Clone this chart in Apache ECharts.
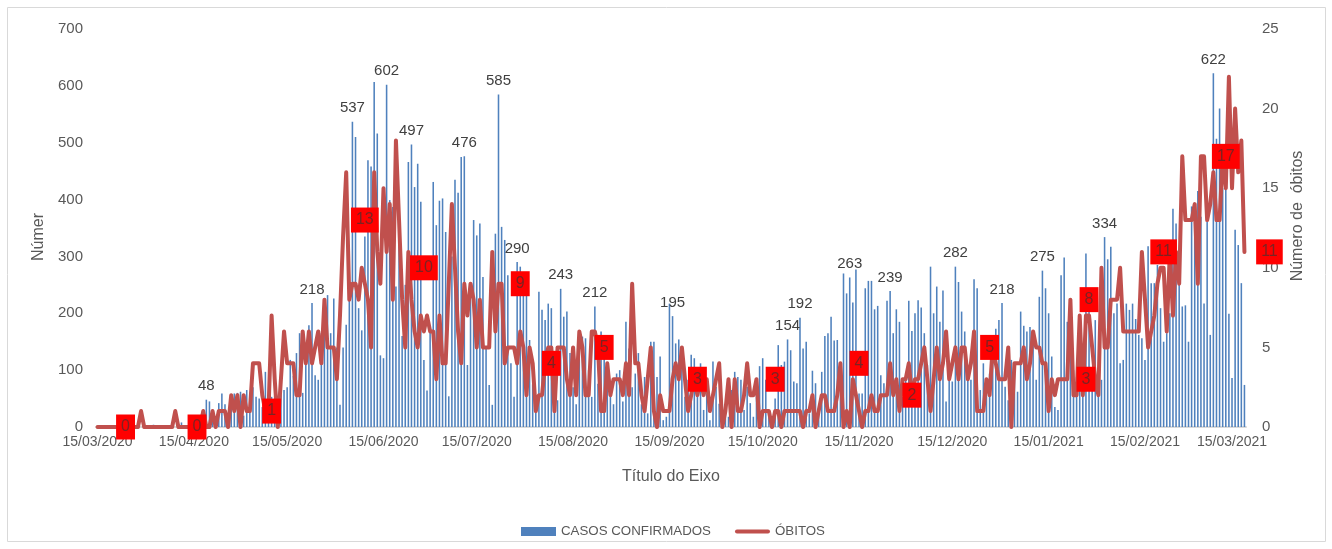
<!DOCTYPE html>
<html>
<head>
<meta charset="utf-8">
<script src="https://cdn.jsdelivr.net/npm/echarts@6/dist/echarts.min.js"></script>
<style>
  html, body { margin: 0; padding: 0; background: #fff; }
  #chart { width: 1332px; height: 549px; }
</style>
</head>
<body>
<div id="chart"></div>
<script>
// daily series, first day 15/03/2020
const START_DAY = Date.UTC(2020, 2, 15);

const casosConfirmados = [
  0, 0, 0, 0, 0, 0, 0, 0, 0, 0,
  0, 0, 0, 0, 0, 0, 0, 0, 4, 0,
  0, 0, 0, 0, 0, 0, 0, 8, 0, 3,
  0, 2, 5, 10, 6, 48, 45, 15, 10, 42,
  59, 40, 18, 58, 59, 60, 62, 20, 65, 30,
  70, 53, 50, 35, 97, 55, 53, 55, 45, 60,
  65, 70, 118, 90, 130, 165, 60, 130, 179, 218,
  91, 83, 165, 226, 232, 165, 226, 140, 39, 140,
  180, 223, 537, 510, 209, 170, 335, 469, 458, 607,
  516, 126, 121, 602, 399, 387, 247, 330, 160, 250,
  466, 497, 422, 463, 396, 118, 64, 170, 431, 355,
  398, 402, 343, 54, 300, 435, 412, 475, 476, 109,
  250, 364, 337, 358, 264, 141, 74, 39, 340, 585,
  352, 329, 267, 112, 53, 290, 282, 264, 240, 153,
  75, 35, 238, 206, 188, 217, 209, 40, 47, 243,
  194, 203, 130, 70, 40, 168, 159, 156, 100, 53,
  212, 76, 168, 153, 112, 76, 40, 94, 100, 45,
  185, 138, 70, 94, 130, 40, 88, 24, 150, 150,
  88, 124, 12, 18, 217, 195, 147, 154, 141, 53,
  83, 127, 121, 65, 112, 30, 59, 12, 115, 71,
  41, 41, 41, 18, 65, 97, 88, 83, 30, 71,
  42, 18, 77, 107, 121, 83, 30, 15, 50, 144,
  109, 115, 154, 135, 80, 77, 192, 138, 150, 24,
  99, 77, 24, 97, 160, 165, 194, 152, 153, 71,
  270, 235, 263, 219, 277, 59, 59, 244, 257, 257,
  207, 213, 91, 77, 222, 239, 165, 207, 185, 53,
  83, 222, 169, 200, 223, 210, 165, 109, 282, 200,
  247, 185, 240, 45, 83, 80, 282, 255, 203, 168,
  83, 83, 260, 244, 65, 112, 77, 94, 148, 173,
  188, 218, 71, 47, 118, 94, 62, 203, 178, 168,
  176, 168, 83, 229, 275, 244, 200, 124, 35, 30,
  267, 298, 185, 140, 100, 88, 80, 120, 305, 230,
  83, 188, 70, 83, 334, 295, 317, 200, 217, 112,
  118, 217, 206, 217, 190, 162, 156, 118, 318, 253,
  253, 285, 209, 150, 165, 200, 384, 358, 298, 212,
  214, 150, 388, 394, 415, 370, 217, 361, 162, 622,
  507, 560, 420, 417, 199, 86, 347, 320, 253, 74
];

const obitos = [
  0, 0, 0, 0, 0, 0, 0, 0, 0, 0,
  0, 0, 0, 0, 1, 0, 0, 0, 0, 0,
  0, 0, 0, 0, 0, 1, 0, 0, 0, 0,
  0, 0, 0, 0, 1, 0, 0, 1, 0, 1,
  1, 1, 0, 2, 1, 2, 0, 2, 1, 1,
  4, 4, 4, 2, 1, 1, 7, 3, 0, 3,
  6, 4, 4, 4, 2, 2, 6, 4, 6, 4,
  5, 6, 4, 8, 5, 5, 5, 3, 7, 12,
  16, 8, 9, 9, 8, 10, 9, 8, 5, 16,
  11, 9, 15, 11, 14, 8, 18, 13, 8, 5,
  11, 8, 6, 5, 7, 6, 7, 6, 6, 3,
  7, 4, 4, 9, 14, 10, 6, 4, 9, 7,
  9, 8, 5, 8, 5, 5, 5, 11, 6, 9,
  9, 4, 5, 5, 5, 4, 6, 5, 2, 5,
  4, 1, 2, 2, 4, 5, 5, 1, 5, 5,
  5, 3, 2, 5, 2, 6, 5, 2, 2, 6,
  6, 5, 1, 1, 4, 2, 3, 3, 3, 2,
  4, 2, 9, 4, 4, 2, 1, 3, 5, 1,
  0, 2, 1, 1, 1, 3, 4, 3, 5, 3,
  1, 2, 3, 2, 3, 2, 3, 1, 2, 3,
  4, 0, 1, 3, 0, 3, 1, 1, 2, 4,
  2, 2, 3, 0, 1, 1, 1, 0, 1, 1,
  0, 1, 1, 1, 1, 1, 1, 0, 1, 1,
  2, 0, 1, 2, 2, 1, 1, 1, 2, 4,
  0, 1, 0, 3, 2, 1, 0, 1, 1, 2,
  1, 1, 2, 2, 2, 4, 2, 3, 1, 3,
  3, 4, 2, 3, 3, 4, 5, 3, 1, 3,
  5, 3, 4, 6, 3, 4, 5, 3, 5, 5,
  3, 4, 6, 1, 1, 1, 3, 2, 5, 4,
  3, 3, 3, 5, 0, 4, 4, 4, 5, 3,
  4, 6, 5, 5, 4, 4, 1, 3, 2, 3,
  3, 3, 3, 8, 2, 2, 7, 2, 7, 7,
  5, 3, 2, 10, 5, 5, 8, 8, 8, 10,
  6, 6, 6, 6, 6, 6, 11, 8, 5, 6,
  7, 9, 10, 10, 6, 11, 7, 11, 9, 17,
  13, 13, 13, 14, 9, 17, 17, 13, 14, 16,
  13, 13, 17, 15, 22, 15, 20, 16, 18, 11
];

// days whose bar carries a value label
const casosLabelDays = [35, 69, 82, 93, 101, 118, 129, 135, 149, 160, 185, 222, 226, 242, 255, 276, 291, 304, 324, 359];

// red boxes on the deaths line (day, value shown)
const obitosLabelDays = [9, 32, 56, 86, 105, 136, 146, 163, 193, 218, 245, 262, 287, 318, 319, 343, 363, 369];
const obitosLabelValues = [0, 0, 1, 13, 10, 9, 4, 5, 3, 3, 4, 2, 5, 3, 8, 11, 17, 11];

const casosAxis = { min: 0, max: 700, interval: 100 };
const obitosAxis = { min: 0, max: 25, interval: 5 };

function formatDay(offset) {
  const d = new Date(START_DAY + offset * 86400000);
  const dd = String(d.getUTCDate()).padStart(2, "0");
  const mm = String(d.getUTCMonth() + 1).padStart(2, "0");
  return `${dd}/${mm}/${d.getUTCFullYear()}`;
}

const dayLabels = casosConfirmados.map((_, i) => formatDay(i));
const isMonthTick = (index, value) => value.startsWith("15/");

const GREY = "#595959";
const FONT = "'Liberation Sans', Arial, sans-serif";
const LINE_ICON = "path://M2,0 L33,0 A2,2 0 0 1 33,4 L2,4 A2,2 0 0 1 2,0 Z";

const chart = echarts.init(document.getElementById("chart"), null, { renderer: "canvas" });

const lastLabel = obitosLabelDays.length - 1;

chart.setOption({
  animation: false,
  textStyle: { fontFamily: FONT },
  graphic: [{
    type: "rect",
    silent: true,
    shape: { x: 7.5, y: 7.5, width: 1318, height: 534 },
    style: { fill: "none", stroke: "#d9d9d9", lineWidth: 1 },
  }],
  legend: {
    data: [
      { name: "CASOS CONFIRMADOS", icon: "rect" },
      { name: "ÓBITOS", icon: LINE_ICON },
    ],
    top: 520,
    left: 516,
    itemWidth: 35,
    itemHeight: 9,
    itemGap: 24,
    textStyle: { fontSize: 13.3, color: GREY, fontFamily: FONT },
  },
  grid: { left: 96, right: 86, top: 29, bottom: 122 },
  xAxis: {
    type: "category",
    data: dayLabels,
    boundaryGap: true,
    name: "Título do Eixo",
    nameLocation: "middle",
    nameGap: 42,
    nameTextStyle: { fontSize: 16, color: GREY },
    axisLine: { lineStyle: { color: "#d9d9d9", width: 2 } },
    axisTick: { alignWithLabel: true, interval: isMonthTick, length: 5, lineStyle: { color: "#d9d9d9" } },
    axisLabel: { interval: isMonthTick, color: GREY, fontSize: 14, margin: 8 },
    splitLine: { show: false },
  },
  yAxis: [
    {
      type: "value",
      ...casosAxis,
      name: "Númer",
      nameLocation: "middle",
      nameRotate: 90,
      nameGap: 44,
      nameTextStyle: { fontSize: 16, color: GREY, padding: [0, 18, 0, 0] },
      axisLine: { show: false },
      axisTick: { show: false },
      splitLine: { show: false },
      axisLabel: { color: GREY, fontSize: 15, margin: 13 },
    },
    {
      type: "value",
      ...obitosAxis,
      position: "right",
      name: "Número de  óbitos",
      nameLocation: "middle",
      nameRotate: 90,
      nameGap: 42,
      nameTextStyle: { fontSize: 16, color: GREY, padding: [0, 0, 0, 24] },
      axisLine: { show: false },
      axisTick: { show: false },
      splitLine: { show: false },
      axisLabel: { color: GREY, fontSize: 15, margin: 16 },
    },
  ],
  series: [
    {
      name: "CASOS CONFIRMADOS",
      type: "bar",
      barWidth: "50%",
      itemStyle: { color: "#4f81bd" },
      label: { show: false, position: "top", distance: 6, color: "#404040", fontSize: 15 },
      data: casosConfirmados.map((v, i) =>
        casosLabelDays.includes(i) ? { value: v, label: { show: true } } : v
      ),
    },
    {
      name: "ÓBITOS",
      type: "line",
      yAxisIndex: 1,
      symbol: "none",
      z: 3,
      lineStyle: { color: "#c0504d", width: 4, join: "round", cap: "round" },
      itemStyle: { color: "#c0504d" },
      data: obitos,
    },
    {
      name: "rotulos",
      type: "scatter",
      yAxisIndex: 1,
      symbolSize: 0,
      silent: true,
      z: 10,
      itemStyle: { color: "#ff0000", opacity: 1 },
      label: {
        show: true,
        position: "inside",
        formatter: (p) => String(p.value[1]),
        backgroundColor: "#ff0000",
        color: "#7d2222",
        fontSize: 16,
        padding: [5, 5, 4, 5],
      },
      data: obitosLabelDays.map((d, i) => ({
        value: [d, obitosLabelValues[i]],
        label: i === lastLabel ? { offset: [25, 0] } : {},
      })),
    },
  ],
});
</script>
</body>
</html>
